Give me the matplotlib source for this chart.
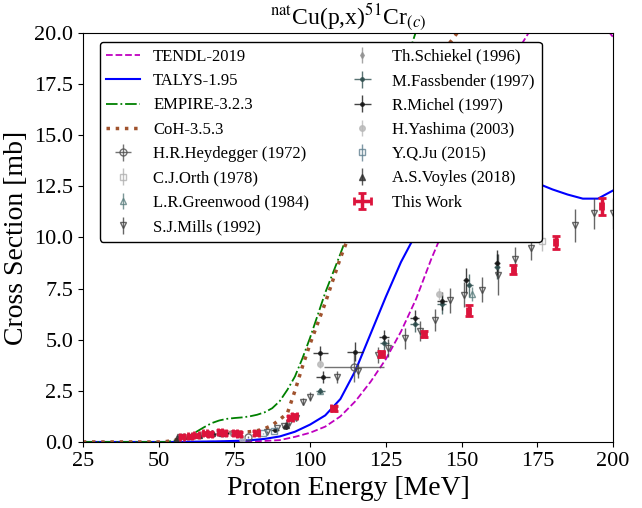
import matplotlib
matplotlib.use("Agg")
import matplotlib.pyplot as plt

plt.rcParams['font.family'] = ['Liberation Serif', 'DejaVu Serif']
plt.rcParams['mathtext.fontset'] = 'stix'

# model curves
tendl_E = [25, 50, 60, 70, 80, 85, 90, 95, 100, 105, 110, 115, 120, 125, 130, 135, 140, 145, 150, 155, 160, 165, 170, 175, 180, 185, 190, 195, 200]
tendl_s = [0.0, 0.0, 0.0, 0.01, 0.03, 0.05, 0.09, 0.25, 0.45, 0.75, 1.25, 2.0, 2.95, 4.05, 5.4, 7.0, 8.95, 10.7, 12.5, 14.3, 16.0, 17.8, 19.5, 20.7, 21.5, 21.8, 21.5, 20.7, 19.8]

talys_E = [25, 50, 55, 60, 65, 70, 75, 80, 85, 90, 95, 100, 105, 110, 115, 120, 125, 130, 135, 140, 145, 150, 155, 160, 165, 170, 175, 180, 185, 190, 195, 200]
talys_s = [0.0, 0.0, 0.0, 0.01, 0.02, 0.03, 0.05, 0.08, 0.15, 0.27, 0.5, 0.85, 1.3, 2.1, 3.5, 5.3, 7.1, 8.8, 10.2, 11.3, 12.1, 12.6, 13.0, 13.1, 13.1, 12.9, 12.65, 12.35, 12.1, 11.9, 11.9, 12.3]

empire_E = [25, 50, 52.5, 55, 57.5, 60, 62.5, 65, 67.5, 70, 72.5, 75, 77.5, 80, 82.5, 85, 87.5, 90, 92.5, 95, 97.5, 100, 105, 110, 115, 120, 125, 130, 135, 140]
empire_s = [0.0, 0.0, 0.0, 0.06, 0.15, 0.3, 0.5, 0.72, 0.92, 1.05, 1.13, 1.17, 1.2, 1.25, 1.33, 1.45, 1.65, 2.0, 2.55, 3.2, 4.1, 5.1, 7.3, 9.2, 11.2, 13.4, 15.6, 17.8, 20.1, 22.0]

coh_E = [25, 50, 52.5, 55, 57.5, 60, 62.5, 65, 67.5, 70, 72.5, 75, 77.5, 80, 82.5, 85, 87.5, 90, 92.5, 95, 97.5, 100, 105, 110, 115, 120, 125, 130, 135, 140, 145, 150]
coh_s = [0.0, 0.0, 0.02, 0.08, 0.15, 0.22, 0.3, 0.36, 0.42, 0.45, 0.46, 0.47, 0.48, 0.5, 0.55, 0.65, 0.82, 1.1, 1.4, 2.5, 3.7, 4.8, 6.8, 9.0, 10.9, 12.7, 14.3, 15.7, 17.0, 18.2, 19.3, 20.3]

# experimental data
heyd_E = [79.6, 114.5]
heyd_s = [0.26, 3.68]
heyd_dE = [0.0, 10.0]
heyd_ds = [0.05, 0.77]

orth_E = [176.5]
orth_s = [9.84]
orth_ds = [0.5]

green_E = [103.3, 153.5]
green_s = [2.49, 7.24]
green_ds = [0.15, 0.35]

mills_E = [57.0, 85.7, 89.0, 91.4, 93.1, 95.5, 97.7, 99.9, 108.9, 115.8, 122.3, 125.8, 131.3, 136.3, 141.3, 146.2, 150.9, 156.6, 162.1, 167.6, 172.9, 187.4, 193.7, 200.0]
mills_s = [0.22, 0.50, 0.67, 0.78, 0.91, 1.16, 1.97, 2.22, 3.17, 3.48, 4.25, 4.60, 5.07, 5.42, 5.97, 6.92, 7.20, 7.45, 8.17, 8.93, 9.47, 10.60, 11.18, 11.18]
mills_ds = [0.03, 0.05, 0.06, 0.07, 0.08, 0.1, 0.18, 0.2, 0.3, 0.35, 0.4, 0.45, 0.5, 0.5, 0.55, 0.6, 0.6, 0.6, 1.0, 0.6, 0.55, 0.8, 0.75, 0.75]

schiek_E = [58.5, 64.0, 69.5, 74.0]
schiek_s = [0.27, 0.36, 0.44, 0.42]
schiek_ds = [0.04, 0.04, 0.05, 0.05]

fass_E = [103.3, 124.5, 134.5, 143.5, 152.6, 161.6]
fass_s = [2.49, 4.86, 5.77, 6.73, 7.66, 8.57]
fass_dE = [1.5, 1.5, 1.5, 1.5, 1.0, 1.0]
fass_ds = [0.15, 0.35, 0.4, 0.45, 0.55, 0.6]

mich_E = [68.0, 72.4, 88.4, 92.0, 103.3, 104.4, 114.8, 124.5, 134.5, 143.5, 151.6, 161.6]
mich_s = [0.39, 0.42, 0.59, 0.72, 4.34, 3.19, 4.42, 5.12, 6.05, 6.90, 7.90, 8.77]
mich_dE = [1.0, 1.0, 1.2, 1.2, 2.5, 2.3, 2.5, 1.6, 1.6, 1.6, 1.0, 1.0]
mich_ds = [0.05, 0.05, 0.06, 0.07, 0.37, 0.3, 0.45, 0.35, 0.4, 0.45, 0.6, 0.6]

yash_E = [77.4, 103.3, 142.6]
yash_s = [0.13, 3.81, 7.24]
yash_ds = [0.03, 0.2, 0.3]

ju_E = [84.5, 88.0]
ju_s = [0.42, 0.55]
ju_ds = [0.04, 0.05]

voy_E = [56.0, 60.0, 63.5, 67.5, 71.0, 92.2]
voy_s = [0.18, 0.27, 0.35, 0.42, 0.45, 0.83]
voy_ds = [0.03, 0.04, 0.04, 0.05, 0.05, 0.08]

tw_E = [57.8, 60.3, 62.5, 65.3, 67.0, 70.2, 71.5, 75.2, 76.5, 82.3, 93.5, 94.8, 107.8, 123.5, 137.5, 152.4, 167.1, 181.0, 196.2]
tw_s = [0.25, 0.28, 0.32, 0.42, 0.40, 0.48, 0.42, 0.46, 0.40, 0.42, 1.15, 1.25, 1.65, 4.32, 5.30, 6.42, 8.42, 9.76, 11.52]
tw_dE = [0.7, 0.7, 0.7, 0.7, 0.7, 0.7, 0.7, 0.7, 0.7, 0.7, 0.8, 0.8, 0.8, 0.8, 0.6, 0.5, 0.5, 0.5, 0.5]
tw_ds = [0.08, 0.08, 0.08, 0.09, 0.09, 0.1, 0.1, 0.1, 0.1, 0.1, 0.1, 0.1, 0.12, 0.15, 0.15, 0.27, 0.22, 0.32, 0.4]

fig = plt.figure(figsize=(6.42, 5.08), dpi=100)
ax = fig.add_axes([0.129, 0.130, 0.826, 0.805])

ax.plot(tendl_E, tendl_s, color='m', ls='--', lw=1.3, label='TENDL-2019')
ax.plot(talys_E, talys_s, color='b', ls='-', lw=1.5, label='TALYS-1.95')
ax.plot(empire_E, empire_s, color='g', ls='-.', lw=1.3, label='EMPIRE-3.2.3')
ax.plot(coh_E, coh_s, color='sienna', ls=':', lw=2.5, label='CoH-3.5.3')

ekw = dict(ls='none', elinewidth=1, ms=5, alpha=0.8, capsize=0)
ax.errorbar(heyd_E, heyd_s, xerr=heyd_dE, yerr=heyd_ds, fmt='o', color='#505050', mfc='none', label='H.R.Heydegger (1972)', **ekw)
ax.errorbar(orth_E, orth_s, yerr=orth_ds, fmt='s', color='#b0b0b0', mfc='none', label='C.J.Orth (1978)', **ekw)
ax.errorbar(green_E, green_s, yerr=green_ds, fmt='^', color='#5a7d7d', mfc='none', label='L.R.Greenwood (1984)', **ekw)
ax.errorbar(mills_E, mills_s, yerr=mills_ds, fmt='v', color='#404040', mfc='none', label='S.J.Mills (1992)', **ekw)
ax.errorbar(schiek_E, schiek_s, yerr=schiek_ds, fmt='d', color='#909090', label='Th.Schiekel (1996)', ls='none', elinewidth=1, ms=3, alpha=0.8)
ax.errorbar(fass_E, fass_s, xerr=fass_dE, yerr=fass_ds, fmt='.', color='#2f4f4f', label='M.Fassbender (1997)', ls='none', elinewidth=1, ms=5, alpha=0.8)
ax.errorbar(mich_E, mich_s, xerr=mich_dE, yerr=mich_ds, fmt='.', color='#151515', label='R.Michel (1997)', ls='none', elinewidth=1, ms=5, alpha=0.8)
ax.errorbar(yash_E, yash_s, yerr=yash_ds, fmt='o', color='#b8b8b8', label='H.Yashima (2003)', ls='none', elinewidth=1, ms=4, alpha=0.8)
ax.errorbar(ju_E, ju_s, yerr=ju_ds, fmt='s', color='#5f7f8f', mfc='none', label='Y.Q.Ju (2015)', **ekw)
ax.errorbar(voy_E, voy_s, yerr=voy_ds, fmt='^', color='#303030', label='A.S.Voyles (2018)', ls='none', elinewidth=1, ms=4, alpha=0.8)
ax.errorbar(tw_E, tw_s, xerr=tw_dE, yerr=tw_ds, fmt='none', ecolor='#dc143c', elinewidth=2.5, capsize=3, capthick=2, label='This Work', zorder=5)

ax.set_xlim(25, 200)
ax.set_ylim(0, 20)
ax.set_xticks([25, 50, 75, 100, 125, 150, 175, 200])
ax.set_yticks([0, 2.5, 5, 7.5, 10, 12.5, 15, 17.5, 20])
ax.set_yticklabels(['0.0', '2.5', '5.0', '7.5', '10.0', '12.5', '15.0', '17.5', '20.0'])
ax.tick_params(labelsize=16)
ax.set_xlabel('Proton Energy [MeV]', fontsize=20)
ax.set_ylabel('Cross Section [mb]', fontsize=20)
ax.set_title(r'$^{\mathrm{nat}}$Cu(p,x)$^{51}$Cr$_{(c)}$', fontsize=17)

leg = ax.legend(loc='upper left', bbox_to_anchor=(0.032, 0.978), borderaxespad=0, ncol=2,
                fontsize=12, framealpha=1, edgecolor='black', labelspacing=0.5, columnspacing=2.2)
leg.get_frame().set_linewidth(1.0)

fig.savefig('out.png', dpi=100)
